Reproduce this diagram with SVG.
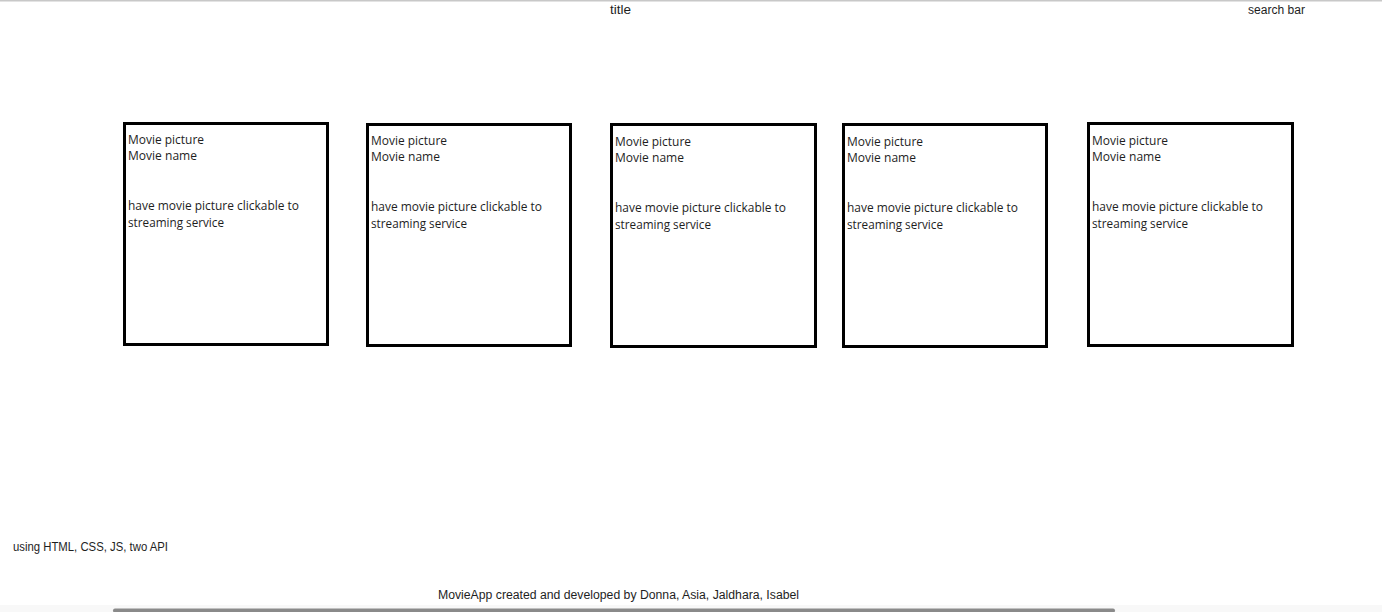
<svg xmlns="http://www.w3.org/2000/svg" width="1382" height="612" viewBox="0 0 1382 612">
<style>
.card{fill:#fff;stroke:#000;stroke-width:3}
.t{font-family:"Open Sans","Liberation Sans",sans-serif;font-size:12.5px;fill:#1e1e1e}
.s{font-family:"Liberation Sans","Open Sans",sans-serif;font-size:12px;fill:#1e1e1e}
</style>
<rect x="0" y="0" width="1382" height="612" fill="#fff"/>
<rect x="0" y="0" width="1382" height="1.5" fill="#c8c8c8"/>
<rect x="0" y="605" width="1382" height="7" fill="#f8f8f8"/>
<rect x="113" y="608.5" width="1002" height="4" rx="2" fill="#8a8a8a"/>
<g id="header">
<text class="s" x="610" y="14" textLength="21" lengthAdjust="spacingAndGlyphs">title</text>
<text class="s" x="1248" y="14" textLength="57" lengthAdjust="spacingAndGlyphs">search bar</text>
</g>
<g id="card1">
<rect class="card" x="124.5" y="123.5" width="203" height="221"/>
<text class="t" x="128" y="144" textLength="76" lengthAdjust="spacingAndGlyphs">Movie picture</text>
<text class="t" x="128" y="160" textLength="69" lengthAdjust="spacingAndGlyphs">Movie name</text>
<text class="t" x="128" y="210" textLength="171" lengthAdjust="spacingAndGlyphs">have movie picture clickable to</text>
<text class="t" x="128" y="227" textLength="96" lengthAdjust="spacingAndGlyphs">streaming service</text>
</g>
<g id="card2">
<rect class="card" x="367.5" y="124.5" width="203" height="221"/>
<text class="t" x="371" y="145" textLength="76" lengthAdjust="spacingAndGlyphs">Movie picture</text>
<text class="t" x="371" y="161" textLength="69" lengthAdjust="spacingAndGlyphs">Movie name</text>
<text class="t" x="371" y="211" textLength="171" lengthAdjust="spacingAndGlyphs">have movie picture clickable to</text>
<text class="t" x="371" y="228" textLength="96" lengthAdjust="spacingAndGlyphs">streaming service</text>
</g>
<g id="card3">
<rect class="card" x="611.5" y="124.5" width="204" height="222"/>
<text class="t" x="615" y="146" textLength="76" lengthAdjust="spacingAndGlyphs">Movie picture</text>
<text class="t" x="615" y="162" textLength="69" lengthAdjust="spacingAndGlyphs">Movie name</text>
<text class="t" x="615" y="212" textLength="171" lengthAdjust="spacingAndGlyphs">have movie picture clickable to</text>
<text class="t" x="615" y="229" textLength="96" lengthAdjust="spacingAndGlyphs">streaming service</text>
</g>
<g id="card4">
<rect class="card" x="843.5" y="124.5" width="203" height="222"/>
<text class="t" x="847" y="146" textLength="76" lengthAdjust="spacingAndGlyphs">Movie picture</text>
<text class="t" x="847" y="162" textLength="69" lengthAdjust="spacingAndGlyphs">Movie name</text>
<text class="t" x="847" y="212" textLength="171" lengthAdjust="spacingAndGlyphs">have movie picture clickable to</text>
<text class="t" x="847" y="229" textLength="96" lengthAdjust="spacingAndGlyphs">streaming service</text>
</g>
<g id="card5">
<rect class="card" x="1088.5" y="123.5" width="204" height="222"/>
<text class="t" x="1092" y="145" textLength="76" lengthAdjust="spacingAndGlyphs">Movie picture</text>
<text class="t" x="1092" y="161" textLength="69" lengthAdjust="spacingAndGlyphs">Movie name</text>
<text class="t" x="1092" y="211" textLength="171" lengthAdjust="spacingAndGlyphs">have movie picture clickable to</text>
<text class="t" x="1092" y="228" textLength="96" lengthAdjust="spacingAndGlyphs">streaming service</text>
</g>
<g id="footer">
<text class="s" x="13" y="551" textLength="155" lengthAdjust="spacingAndGlyphs">using HTML, CSS, JS, two API</text>
<text class="s" x="438" y="599" textLength="361" lengthAdjust="spacingAndGlyphs">MovieApp created and developed by Donna, Asia, Jaldhara, Isabel</text>
</g>
<g id="connectors"></g>
</svg>
